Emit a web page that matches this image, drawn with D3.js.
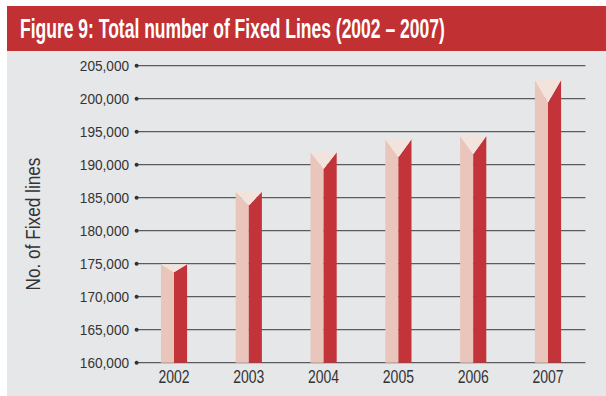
<!DOCTYPE html>
<html>
<head>
<meta charset="utf-8">
<script src="https://cdn.jsdelivr.net/npm/d3@7"></script>
<style>
  html, body { margin: 0; padding: 0; background: #fff; }
  svg { display: block; }
  text { font-family: "Liberation Sans", Arial, sans-serif; }
</style>
</head>
<body>
<svg id="chart" width="606" height="396"></svg>
<script>
// Fixed lines per year
const years = ["2002", "2003", "2004", "2005", "2006", "2007"];
const fixedLines = [174900, 185900, 191900, 193850, 194350, 202850];
const yTicks = [160000, 165000, 170000, 175000, 180000, 185000, 190000, 195000, 200000, 205000];
const titleText = "Figure 9: Total number of Fixed Lines (2002 \u2013 2007)";
const yAxisTitle = "No. of Fixed lines";

const svg = d3.select("#chart");
const W = 606, H = 396;

// squeeze a text horizontally (in its own frame) about its anchor point
function condense(node, factor) {
  const xAttr = +node.getAttribute("x") || 0;
  const prev = node.getAttribute("transform") || "";
  node.setAttribute("transform", `${prev} translate(${xAttr},0) scale(${factor},1) translate(${-xAttr},0)`);
}

// panel backgrounds
svg.append("rect").attr("x", 7).attr("y", 51).attr("width", W - 7).attr("height", H - 51).attr("fill", "#e6e7e9");
svg.append("rect").attr("x", 7).attr("y", 6).attr("width", W - 7).attr("height", 45).attr("fill", "#c13133");

const title = svg.append("text")
  .attr("x", 20).attr("y", 38)
  .attr("fill", "#fff")
  .attr("font-size", 28)
  .attr("font-weight", "bold")
  .text(titleText);
condense(title.node(), 425 / title.node().getComputedTextLength());

const plot = { left: 136.6, right: 585.4, top: 65.7, bottom: 362.7 };

const x = d3.scaleBand().domain(years).range([plot.left, plot.right]).paddingInner(0.65).paddingOuter(0.325);
const y = d3.scaleLinear().domain([160000, 205000]).range([plot.bottom, plot.top]);

// gridlines with dot ticks
const grid = svg.append("g");
yTicks.forEach(t => {
  grid.append("line")
    .attr("x1", plot.left).attr("x2", plot.right)
    .attr("y1", y(t)).attr("y2", y(t))
    .attr("stroke", "#5b5b5d").attr("stroke-width", 1.3);
  grid.append("circle").attr("cx", plot.left).attr("cy", y(t)).attr("r", 2).attr("fill", "#333");
});

// y axis labels
const yAxis = d3.axisLeft(y).tickValues(yTicks).tickSize(0).tickPadding(0).tickFormat(d3.format(","));
const gy = svg.append("g").attr("transform", `translate(${plot.left - 7.5},0)`).call(yAxis);
gy.select(".domain").remove();
gy.selectAll("text")
  .attr("font-size", 14.5)
  .attr("fill", "#333")
  .style("font-family", "\"Liberation Sans\", Arial, sans-serif")
  .each(function () { condense(this, 0.94); });

// x axis labels
const xAxis = d3.axisBottom(x).tickSize(0).tickPadding(0);
const gx = svg.append("g").attr("transform", `translate(0,${plot.bottom + 8})`).call(xAxis);
gx.select(".domain").remove();
gx.selectAll("text")
  .attr("font-size", 17.5)
  .attr("fill", "#333")
  .style("font-family", "\"Liberation Sans\", Arial, sans-serif")
  .each(function () { condense(this, 0.8); });

// rotated y title
const yt = svg.append("text")
  .attr("transform", `translate(40,224) rotate(-90)`)
  .attr("text-anchor", "middle")
  .attr("font-size", 20)
  .attr("fill", "#333")
  .text(yAxisTitle);
condense(yt.node(), 133 / yt.node().getComputedTextLength());

// prism-style bars: light left face, dark right face, pale top wedge
const bars = svg.append("g");
years.forEach((yr, i) => {
  const l = x(yr), w = x.bandwidth(), r = l + w, c = l + w / 2;
  const top = y(fixedLines[i]), base = y(160000);
  const d = 0.08 * (base - top);
  const g = bars.append("g");
  g.append("path").attr("d", `M${l},${top}L${c},${top + d}L${c},${base}L${l},${base}Z`).attr("fill", "#e9c5bc");
  g.append("path").attr("d", `M${c},${top + d}L${r},${top}L${r},${base}L${c},${base}Z`).attr("fill", "#c2343a");
  g.append("path").attr("d", `M${l},${top}L${r},${top}L${c},${top + d}Z`).attr("fill", "#f2e3dd");
});
</script>
</body>
</html>
